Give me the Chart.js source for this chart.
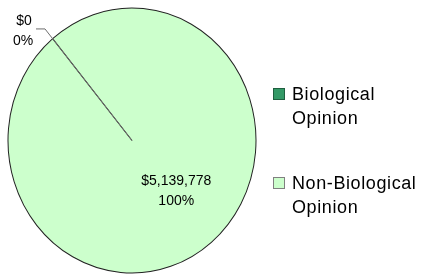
<!DOCTYPE html>
<html>
<head>
<meta charset="utf-8">
<script src="https://cdn.jsdelivr.net/npm/chart.js@4"></script>
<style>
html, body { margin: 0; padding: 0; background: #fff; }
#wrap { position: relative; width: 421px; height: 274px; overflow: hidden; font-family: "Liberation Sans", Arial, sans-serif; }
#c { position: absolute; left: 0; top: 0; }
.item { position: absolute; left: 292px; font-size: 18px; line-height: 24px; letter-spacing: 0.6px; color: #000; white-space: nowrap; }
.box { position: absolute; left: 273px; width: 10px; height: 10px; }
</style>
</head>
<body>
<div id="wrap">
  <canvas id="c" width="421" height="274"></canvas>
  <div id="legend"></div>
</div>
<script>
// datos del gráfico
const categories = ['Biological Opinion', 'Non-Biological Opinion'];
const legendLines = [['Biological', 'Opinion'], ['Non-Biological', 'Opinion']];
const amounts = [0, 5139778];

const fills = ['#339966', '#CCFFCC'];
const boxBorders = ['#1f5f3f', '#808080'];
const stretchY = 1.0685; // la torta original es un poco ovalada

const total = amounts.reduce((a, b) => a + b, 0);
const money = v => '$' + v.toLocaleString('en-US');
const pct = v => Math.round(v / total * 100) + '%';

// leyenda en HTML
const legend = document.getElementById('legend');
const legendTops = [82, 171];
categories.forEach((name, i) => {
    const box = document.createElement('div');
    box.className = 'box';
    box.style.top = (legendTops[i] + 6) + 'px';
    box.style.background = fills[i];
    box.style.border = '1px solid ' + boxBorders[i];
    legend.appendChild(box);
    const txt = document.createElement('div');
    txt.className = 'item';
    txt.style.top = legendTops[i] + 'px';
    txt.innerHTML = legendLines[i].join('<br>');
    txt.title = name;
    legend.appendChild(txt);
});

const ovalPlugin = {
    id: 'oval',
    beforeDatasetsDraw(chart) {
        const arc = chart.getDatasetMeta(0).data[0];
        const ctx = chart.ctx;
        ctx.save();
        ctx.translate(arc.x, arc.y);
        ctx.scale(1, stretchY);
        ctx.translate(-arc.x, -arc.y);
    },
    afterDatasetsDraw(chart) {
        const ctx = chart.ctx;
        ctx.restore();
        const meta = chart.getDatasetMeta(0);
        const cx = meta.data[0].x, cy = meta.data[0].y;
        const r = meta.data[0].outerRadius;
        ctx.font = '14px "Liberation Sans", Arial, sans-serif';
        ctx.fillStyle = '#000';
        ctx.textAlign = 'center';
        ctx.textBaseline = 'alphabetic';
        meta.data.forEach((arc, i) => {
            const v = amounts[i];
            if (v === 0) {
                // etiqueta con línea guía para la porción vacía
                const a = arc.startAngle;
                const ex = cx + Math.cos(a) * r * 1.096;
                const ey = cy + Math.sin(a) * r * 1.096 * stretchY;
                ctx.strokeStyle = '#6e6e6e';
                ctx.lineWidth = 1;
                ctx.beginPath();
                ctx.moveTo(cx, cy);
                ctx.lineTo(ex, ey);
                ctx.lineTo(ex - 9, ey);
                ctx.stroke();
                ctx.fillText(money(v), ex - 21, ey - 4);
                ctx.fillText(pct(v), ex - 22, ey + 16);
            } else {
                const mid = (arc.startAngle + arc.endAngle) / 2;
                const lx = cx + Math.cos(mid) * r * 0.52 + 3;
                const ly = cy + Math.sin(mid) * r * 0.5 * stretchY;
                ctx.fillText(money(v), lx, ly - 6);
                ctx.fillText(pct(v), lx, ly + 14);
            }
        });
    }
};

new Chart(document.getElementById('c'), {
    type: 'pie',
    data: {
        labels: categories,
        datasets: [{
            data: amounts,
            backgroundColor: fills,
            borderColor: '#222',
            borderWidth: 1,
            hoverOffset: 0,
            rotation: -39.8
        }]
    },
    options: {
        responsive: false,
        animation: false,
        events: [],
        layout: { padding: { left: 7.5, right: 164.5, top: 16, bottom: 9 } },
        plugins: { legend: { display: false }, tooltip: { enabled: false } }
    },
    plugins: [ovalPlugin]
});
</script>
</body>
</html>
